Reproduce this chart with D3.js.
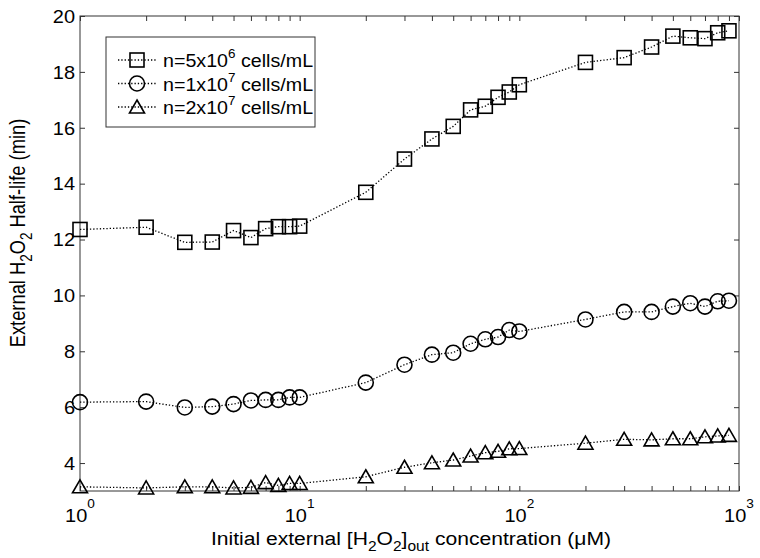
<!DOCTYPE html>
<html>
<head>
<meta charset="utf-8">
<script src="https://cdn.jsdelivr.net/npm/d3@7"></script>
<style>
  html, body { margin: 0; padding: 0; background: #fff; }
  text { font-family: "Liberation Sans", Arial, sans-serif; fill: #000; }
</style>
</head>
<body>
<svg id="chart" width="760" height="558"></svg>
<script>
// ---- data ----
const concentrations = [1,2,3,4,5,6,7,8,9,10,20,30,40,50,60,70,80,90,100,200,300,400,500,600,700,800,900];
const halfLife5e6 = [12.36,12.44,11.90,11.91,12.32,12.07,12.39,12.46,12.46,12.48,13.69,14.88,15.60,16.05,16.64,16.77,17.09,17.28,17.54,18.34,18.51,18.89,19.28,19.22,19.19,19.40,19.47];
const halfLife1e7 = [6.18,6.20,5.99,6.02,6.11,6.24,6.26,6.26,6.35,6.35,6.88,7.52,7.88,7.95,8.27,8.43,8.51,8.76,8.71,9.14,9.41,9.41,9.60,9.72,9.60,9.79,9.81];
const halfLife2e7 = [3.15,3.11,3.15,3.15,3.11,3.13,3.30,3.20,3.27,3.27,3.51,3.85,4.01,4.11,4.25,4.37,4.42,4.51,4.52,4.71,4.85,4.83,4.87,4.87,4.94,4.97,4.99];
const seriesNames = [
  [{t:"n=5x10"},{t:"6",s:"sup"},{t:" cells/mL"}],
  [{t:"n=1x10"},{t:"7",s:"sup"},{t:" cells/mL"}],
  [{t:"n=2x10"},{t:"7",s:"sup"},{t:" cells/mL"}]
];
const seriesMarkers = ["square","circle","triangle"];
const yTicks = [4,6,8,10,12,14,16,18,20];
const xMajorTicks = [1,10,100,1000];
const xMinorTicks = [2,3,4,5,6,7,8,9,20,30,40,50,60,70,80,90,200,300,400,500,600,700,800,900];

// ---- layout ----
const L = 80, R = 739, T = 16, B = 491;
const svg = d3.select("#chart");
const x = d3.scaleLog().domain([1,1000]).range([L,R]);
const y = d3.scaleLinear().domain([3,20]).range([B,T]);
const axisColor = "#333";
const FS = 19;

function rich(sel, parts, size, small, shift) {
  let cur = 0;
  parts.forEach(p => {
    const off = p.s === "sub" ? shift : p.s === "sup" ? -shift : 0;
    sel.append("tspan").attr("dy", off - cur).attr("font-size", p.s ? small : size).text(p.t);
    cur = off;
  });
}

// frame
svg.append("rect").attr("x",L).attr("y",T).attr("width",R-L).attr("height",B-T)
  .attr("fill","none").attr("stroke",axisColor).attr("stroke-width",1);

const allX = xMajorTicks.concat(xMinorTicks);
const gB = svg.append("g").attr("transform",`translate(0,${B})`)
  .call(d3.axisBottom(x).tickValues(allX).tickSize(-5).tickFormat(""));
const gT = svg.append("g").attr("transform",`translate(0,${T})`)
  .call(d3.axisTop(x).tickValues(allX).tickSize(-5).tickFormat(""));
const gL = svg.append("g").attr("transform",`translate(${L},0)`)
  .call(d3.axisLeft(y).tickValues(yTicks).tickSize(-5).tickFormat(""));
const gR = svg.append("g").attr("transform",`translate(${R},0)`)
  .call(d3.axisRight(y).tickValues(yTicks).tickSize(-5).tickFormat(""));
[gB,gT,gL,gR].forEach(g => {
  g.select(".domain").remove();
  g.selectAll(".tick line").attr("stroke",axisColor);
});

// y tick labels
yTicks.forEach(v => {
  svg.append("g").attr("transform",`translate(${L-5},${y(v)}) scale(1.05,1)`)
    .append("text").attr("text-anchor","end").attr("dy","0.36em").attr("font-size",FS).text(v);
});

// x tick labels 10^n
xMajorTicks.forEach(v => {
  const t = svg.append("g").attr("transform",`translate(${x(v)},522) scale(1.05,1)`)
    .append("text").attr("text-anchor","middle");
  rich(t, [{t:"10"},{t:String(Math.round(Math.log10(v))),s:"sup"}], FS, 13, 14);
});

// axis labels
const xl = svg.append("g").attr("transform",`translate(411,545) scale(1.11,1)`)
  .append("text").attr("text-anchor","middle");
rich(xl, [{t:"Initial external [H"},{t:"2",s:"sub"},{t:"O"},{t:"2",s:"sub"},{t:"]"},{t:"out",s:"sub"},{t:" concentration (\u03bcM)"}], FS, 14, 6);

const yl = svg.append("g").attr("transform",`translate(25,233) scale(1.2,1) rotate(-90)`)
  .append("text").attr("text-anchor","middle");
rich(yl, [{t:"External H"},{t:"2",s:"sub"},{t:"O"},{t:"2",s:"sub"},{t:" Half-life (min)"}], 18.3, 13.5, 6);

// markers
function drawMarker(g, type, cx, cy) {
  const sw = 1.6;
  if (type === "square") {
    g.append("rect").attr("x",cx-7).attr("y",cy-7).attr("width",14).attr("height",14)
      .attr("fill","none").attr("stroke","#000").attr("stroke-width",sw);
  } else if (type === "circle") {
    g.append("circle").attr("cx",cx).attr("cy",cy).attr("r",7.5)
      .attr("fill","none").attr("stroke","#000").attr("stroke-width",sw);
  } else {
    g.append("path").attr("d",`M${cx},${cy-7}L${cx+7.5},${cy+6}L${cx-7.5},${cy+6}Z`)
      .attr("fill","none").attr("stroke","#000").attr("stroke-width",sw);
  }
}

const allSeries = [halfLife5e6, halfLife1e7, halfLife2e7];
const line = d3.line().x((d,i)=>x(concentrations[i])).y(d=>y(d));
allSeries.forEach((vals, si) => {
  const g = svg.append("g");
  g.append("path").attr("d", line(vals)).attr("fill","none").attr("stroke","#000")
    .attr("stroke-width",1.3).attr("stroke-dasharray","1.3,2");
  vals.forEach((v,i) => drawMarker(g, seriesMarkers[si], x(concentrations[i]), y(v)));
});

// legend
const lg = svg.append("g");
lg.append("rect").attr("x",106).attr("y",37).attr("width",209).attr("height",90)
  .attr("fill","#fff").attr("stroke",axisColor).attr("stroke-width",1);
seriesNames.forEach((parts, i) => {
  const cy = 60 + i*23.5;
  lg.append("line").attr("x1",118).attr("x2",156).attr("y1",cy).attr("y2",cy)
    .attr("stroke","#000").attr("stroke-width",1.3).attr("stroke-dasharray","1.3,2");
  drawMarker(lg, seriesMarkers[i], 137, cy);
  const t = lg.append("g").attr("transform",`translate(163,${cy+7}) scale(1.035,1)`).append("text");
  rich(t, parts, FS, 13, 9);
});
</script>
</body>
</html>
